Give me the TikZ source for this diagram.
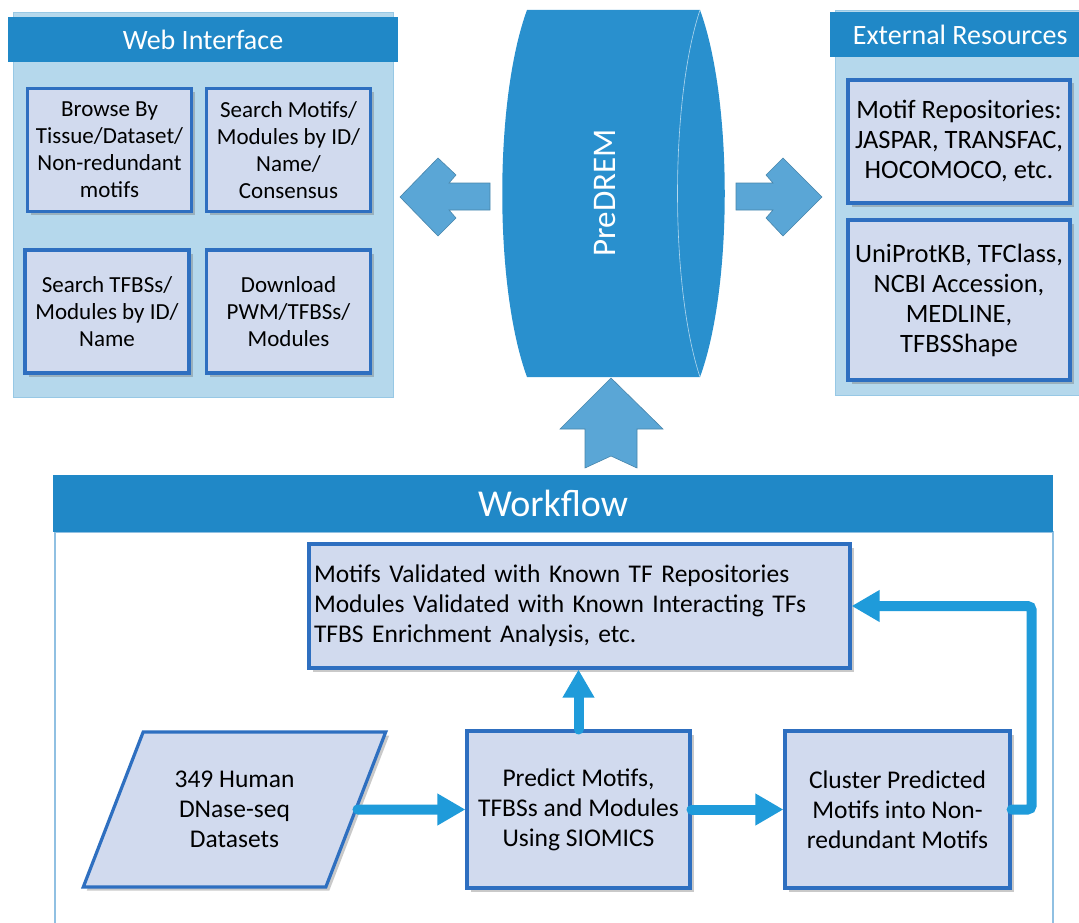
\documentclass[tikz,border=0pt]{standalone}
\usepackage{fontspec}
\setmainfont{Carlito}
\usetikzlibrary{arrows.meta, positioning, shapes.geometric, shadows}
\definecolor{hdrblue}{HTML}{2088C7}
\definecolor{panelblue}{HTML}{B5D8EC}
\definecolor{boxfill}{HTML}{D1DAEE}
\definecolor{boxline}{HTML}{2E6FC0}
\definecolor{bigarrow}{HTML}{5AA6D6}
\definecolor{flowblue}{HTML}{1F9BDA}
\definecolor{drum}{HTML}{2990CE}
\definecolor{wfline}{HTML}{90C0E2}
\tikzset{
  box/.style={
    rectangle, draw=boxline, fill=boxfill, line width=3.2pt,
    align=center, inner sep=3pt, font=\fontsize{23}{27}\selectfont,
    drop shadow={shadow xshift=3.5pt, shadow yshift=-3.5pt, fill=black!60, opacity=0.35}
  },
  extbox/.style={box, minimum width=222pt, font=\fontsize{26.5}{30}\selectfont},
  flowbox/.style={box, font=\fontsize{25.5}{30}\selectfont},
  webbox/.style={box, minimum width=164pt, minimum height=123pt},
  header/.style={rectangle, fill=hdrblue, text=white, minimum height=45pt,
    font=\fontsize{28}{32}\selectfont},
  panel/.style={fill=panelblue, draw=panelblue!80!hdrblue, line width=0.6pt},
  blockarrow/.style={fill=bigarrow, draw=bigarrow!80!black, line width=0.6pt},
  flow/.style={-{Triangle[length=28pt,width=30pt]}, line width=10pt, draw=flowblue, line cap=round},
}

\begin{document}
\begin{tikzpicture}[x=1pt, y=-1pt]
  \useasboundingbox (0,0) rectangle (1079,923);

  % web interface
  \fill[panel] (13,12) rectangle (393,397);
  \node[header, minimum width=390pt] (webhdr) at (203,39.5) {Web Interface};
  \node[webbox] (browse) at (109.5,150) {Browse By\\Tissue/Dataset/\\Non-redundant\\motifs};
  \node[webbox] (srchmotif) at (288.5,150) {Search Motifs/\\Modules by ID/\\Name/\\Consensus};
  \node[webbox] (srchtfbs) at (107,311.5) {Search TFBSs/\\Modules by ID/\\Name};
  \node[webbox] (download) at (288.5,311.5) {Download\\PWM/TFBSs/\\Modules};

  % external resources
  \fill[panel] (835,10) rectangle (1090,395);
  \node[header, minimum width=260pt, anchor=west] (exthdr) at (830,34.5) {External Resources};
  \node[extbox, minimum height=123pt] (repos) at (959,141.5) {Motif Repositories:\\JASPAR, TRANSFAC,\\HOCOMOCO, etc.};
  \node[extbox, minimum height=160pt] (annot) at (959,300) {UniProtKB, TFClass,\\NCBI Accession,\\MEDLINE,\\TFBSShape};

  % PreDREM drum
  \fill[drum] (527,10) .. controls (494,100) and (494,287) .. (527,377)
    -- (700,377) .. controls (733,287) and (733,100) .. (700,10) -- cycle;
  \draw[white!65!drum, line width=0.6pt] (700,10) .. controls (670,100) and (670,287) .. (700,377);
  \node[rotate=90, text=white, font=\fontsize{33}{38}\selectfont] (predrem) at (605,193) {PreDREM};

  % block arrows
  \draw[blockarrow] (400,197) -- (438,158) -- (456,175) -- (449,183) -- (490,183)
    -- (490,210) -- (449,210) -- (456,218) -- (438,236) -- cycle;
  \draw[blockarrow] (736,183) -- (773,183) -- (766,175) -- (783,158) -- (822,197)
    -- (783,236) -- (766,218) -- (773,210) -- (736,210) -- cycle;
  \draw[blockarrow] (611,378) -- (663,429) -- (637,429) -- (637,468) -- (611,456)
    -- (585,468) -- (585,429) -- (560,429) -- cycle;

  % workflow
  \draw[draw=wfline, line width=1.2pt, fill=white] (55,532) rectangle (1053,945);
  \node[header, minimum width=1000pt, minimum height=57pt, font=\fontsize{38}{44}\selectfont] (wfhdr) at (553,503.5) {Workflow};
  \node[flowbox, minimum width=541pt, minimum height=124pt, text width=531pt, align=left] (valid) at (579.5,606)
    {Motifs Validated with Known TF Repositories\\Modules Validated with Known Interacting TFs\\TFBS Enrichment Analysis, etc.};
  \node[flowbox, trapezium, trapezium left angle=63.5, trapezium right angle=116.5, trapezium stretches=true,
    minimum width=303pt, minimum height=155pt] (data) at (234.5,809.5) {349 Human\\DNase-seq\\Datasets};
  \node[flowbox, minimum width=223pt, minimum height=157pt] (predict) at (578.5,809.5) {Predict Motifs,\\TFBSs and Modules\\Using SIOMICS};
  \node[flowbox, minimum width=225pt, minimum height=157pt] (cluster) at (897.5,809.5) {Cluster Predicted\\Motifs into Non-\\redundant Motifs};

  \draw[flow] (data.east) -- (predict.west);
  \draw[flow] (predict.east) -- (cluster.west);
  \draw[flow] (predict.north) -- (predict.north |- valid.south);
  % loop back to validation
  \draw[flow, rounded corners=4pt] (cluster.east) -- ++(20,0) |- (valid.east);
\end{tikzpicture}
\end{document}
